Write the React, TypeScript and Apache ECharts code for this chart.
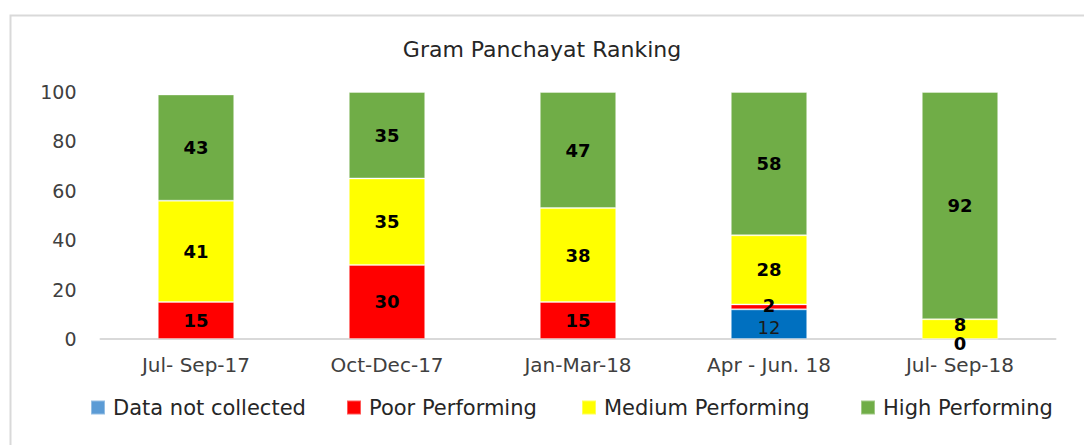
import React, { useEffect, useRef } from "react";
import * as echarts from "echarts";

const categories = ["Jul- Sep-17", "Oct-Dec-17", "Jan-Mar-18", "Apr - Jun. 18", "Jul- Sep-18"];
const dataNotCollected = [null, null, null, 12, null];
const poorPerforming = [15, 30, 15, 2, 0];
const mediumPerforming = [41, 35, 38, 28, 8];
const highPerforming = [43, 35, 47, 58, 92];
const yTicks = [0, 20, 40, 60, 80, 100];

const seriesNames = ["Data not collected", "Poor Performing", "Medium Performing", "High Performing"];
const barColors = ["#0070C0", "#FF0000", "#FFFF00", "#70AD47"];
const legendColors = ["#5B9BD5", "#FF0000", "#FFFF00", "#70AD47"];
const legendLefts = [85, 341, 576, 855];

export default function App() {
  const ref = useRef<HTMLDivElement>(null);
  useEffect(() => {
    if (!ref.current) return;
    const chart = echarts.init(ref.current, null, { renderer: "svg" });
    const font = "'DejaVu Sans', Verdana, sans-serif";
    const values = [dataNotCollected, poorPerforming, mediumPerforming, highPerforming];

    // nudge labels of very thin segments so they sit like the reference
    const labelOffset = (seriesIdx: number, v: number | null): [number, number] => {
      if (v === null) return [0, 0];
      if (seriesIdx === 0) return [0, 3];
      if (seriesIdx === 1 && v === 0) return [0, 4];
      if (seriesIdx === 1 && v < 5) return [0, -1];
      if (seriesIdx === 2 && v < 10) return [0, -5];
      return [0, 0];
    };

    chart.setOption({
      animation: false,
      textStyle: { fontFamily: font },
      title: {
        text: "Gram Panchayat Ranking",
        left: "center",
        top: 33,
        textStyle: { fontFamily: font, fontSize: 22, fontWeight: "normal", color: "#262626" },
      },
      graphic: [
        {
          type: "rect",
          left: 8,
          top: 13,
          shape: { x: 0, y: 0, width: 1200, height: 600 },
          style: { fill: "none", stroke: "#d9d9d9", lineWidth: 2 },
          silent: true,
        },
      ],
      legend: seriesNames.map((n, i) => ({
        left: legendLefts[i],
        top: 392,
        itemWidth: 14,
        itemHeight: 14,
        icon: "rect",
        selectedMode: false,
        data: [{ name: n, itemStyle: { color: legendColors[i] } }],
        textStyle: { fontFamily: font, fontSize: 21, color: "#262626", padding: [0, 0, 0, 3] },
      })),
      grid: { left: 100.5, right: 28.5, top: 92, bottom: 106, containLabel: false },
      xAxis: {
        type: "category",
        data: categories,
        axisLine: { show: true, lineStyle: { color: "#d9d9d9", width: 2 } },
        axisTick: { show: false },
        axisLabel: { fontFamily: font, fontSize: 20, color: "#404040", margin: 16 },
      },
      yAxis: {
        type: "value",
        min: yTicks[0],
        max: yTicks[yTicks.length - 1],
        interval: 20,
        splitLine: { show: false },
        axisLine: { show: false },
        axisTick: { show: false },
        axisLabel: { fontFamily: font, fontSize: 19, color: "#404040", margin: 24 },
      },
      series: seriesNames.map((n, i) => ({
        name: n,
        type: "bar",
        stack: "total",
        barWidth: "40%",
        data: values[i].map((v) => ({ value: v, label: { offset: labelOffset(i, v) } })),
        itemStyle: { color: barColors[i], borderColor: "rgba(255,255,255,0.35)", borderWidth: 1 },
        label: {
          show: true,
          position: "inside",
          fontFamily: font,
          fontSize: 18,
          fontWeight: i === 0 ? "normal" : "bold",
          color: i === 0 ? "#1a1a1a" : "#000000",
        },
      })),
    });
    return () => chart.dispose();
  }, []);
  return (
    <div
      ref={ref}
      style={{ position: "absolute", left: 0, top: 0, width: 1084, height: 445, background: "#ffffff" }}
    />
  );
}
